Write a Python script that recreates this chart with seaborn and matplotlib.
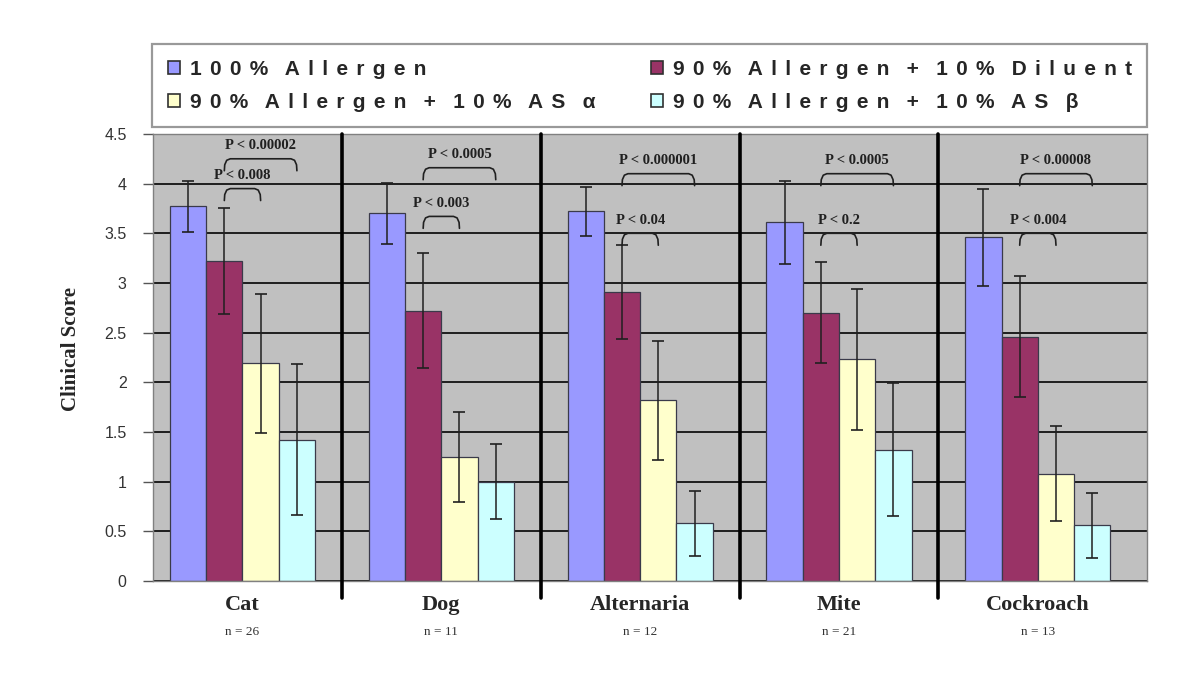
import numpy as np
import pandas as pd
import seaborn as sns
import matplotlib.pyplot as plt
from matplotlib.patches import Patch
import matplotlib.transforms as mtransforms


allergens = ["Cat", "Dog", "Alternaria", "Mite", "Cockroach"]
n_labels = ["n = 26", "n = 11", "n = 12", "n = 21", "n = 13"]
treatments = [
    "100% Allergen",
    "90% Allergen + 10% Diluent",
    "90% Allergen + 10% AS α",
    "90% Allergen + 10% AS β",
]
colors = ["#9999FF", "#993366", "#FFFFCC", "#CCFFFF"]

# mean clinical score per allergen, one list per treatment
means_100 = [3.77, 3.70, 3.72, 3.61, 3.46]
means_dil = [3.22, 2.72, 2.91, 2.70, 2.46]
means_alpha = [2.19, 1.25, 1.82, 2.23, 1.08]
means_beta = [1.42, 1.00, 0.58, 1.32, 0.56]

sd_100 = [0.26, 0.31, 0.25, 0.42, 0.49]
sd_dil = [0.53, 0.58, 0.47, 0.51, 0.61]
sd_alpha = [0.70, 0.45, 0.60, 0.71, 0.48]
sd_beta = [0.76, 0.38, 0.33, 0.67, 0.33]

# p values: diluent vs AS alpha (short bracket), diluent vs AS beta (long bracket)
p_short = ["P < 0.008", "P < 0.003", "P < 0.04", "P < 0.2", "P < 0.004"]
p_long = ["P < 0.00002", "P < 0.0005", "P < 0.000001", "P < 0.0005", "P < 0.00008"]
short_y = [3.95, 3.67, 3.50, 3.50, 3.50]
long_y = [4.25, 4.16, 4.10, 4.10, 4.10]

means = [means_100, means_dil, means_alpha, means_beta]
sds = [sd_100, sd_dil, sd_alpha, sd_beta]

rows = []
for t, vals in zip(treatments, means):
    for a, v in zip(allergens, vals):
        rows.append({"allergen": a, "treatment": t, "score": v})
df = pd.DataFrame(rows)

sns.set_style("white")
plt.rcParams["font.family"] = ["Liberation Sans", "DejaVu Sans"]

fig = plt.figure(figsize=(12, 6.8), dpi=100)
ax = fig.add_axes([0.1275, 0.1456, 0.8285, 0.6574])
ax.set_facecolor("#C0C0C0")

sns.barplot(
    data=df, x="allergen", y="score", hue="treatment",
    order=allergens, hue_order=treatments,
    palette=dict(zip(treatments, colors)), saturation=1,
    width=0.73, errorbar=None, edgecolor="#3a3a4a", linewidth=0.9,
    legend=False, ax=ax,
)

bar_conts = list(ax.containers)
centers = []
for i, cont in enumerate(bar_conts):
    xs = [b.get_x() + b.get_width() / 2 for b in cont]
    centers.append(xs)
    ax.errorbar(xs, means[i], yerr=sds[i], fmt="none", ecolor="#202020",
                elinewidth=1.1, capsize=4, capthick=1.2, zorder=4)

ax.set_xlim(-0.45, 4.55)
ax.set_ylim(0, 4.5)
ax.set_yticks(np.arange(0, 4.51, 0.5))
ax.set_yticklabels([f"{v:g}" for v in np.arange(0, 4.51, 0.5)],
                   fontsize=11.5, color="#333333")
ax.yaxis.grid(True, color="#111111", linewidth=1.3)
ax.xaxis.grid(False)
ax.set_axisbelow(True)
ax.tick_params(axis="y", length=7, width=1, color="#555555", left=True, pad=12)
ax.tick_params(axis="x", length=0, pad=10)
for s in ["left", "bottom", "right", "top"]:
    ax.spines[s].set_color("#808080")
    ax.spines[s].set_linewidth(1)

ax.set_xticks(range(len(allergens)))
ax.set_xticklabels(allergens, family="Liberation Serif", fontweight="bold",
                   fontsize=16)
ax.set_xlabel("")
ax.set_ylabel("Clinical Score", family="Liberation Serif", fontweight="bold",
              fontsize=15)
ax.yaxis.set_label_coords(-0.072, 0.52)

trans = mtransforms.blended_transform_factory(ax.transData, ax.transAxes)
for i, n in enumerate(n_labels):
    ax.text(i, -0.115, n, transform=trans, ha="center", va="center",
            family="Liberation Serif", fontsize=9.5, color="#333333")

# group separators
for b in np.arange(0.5, len(allergens) - 0.5, 1):
    ax.axvline(b, ymin=-0.037, ymax=1, color="black", linewidth=2.6,
               clip_on=False, zorder=3)


def bracket(x1, x2, y, label):
    d = 0.12
    xs = [x1, x1 + 0.002, x1 + 0.012, x1 + 0.03, x2 - 0.03, x2 - 0.012, x2 - 0.002, x2]
    ys = [y - d, y - 0.06, y - 0.015, y, y, y - 0.015, y - 0.06, y - d]
    ax.plot(xs, ys, color="#202020", linewidth=1.2, zorder=5,
            solid_capstyle="round", solid_joinstyle="round")
    ax.text((x1 + x2) / 2, y + 0.13, label, ha="center", va="center",
            family="Liberation Serif", fontweight="bold", fontsize=10.5,
            color="#202020", zorder=5)


for j in range(len(allergens)):
    bracket(centers[1][j], centers[2][j], short_y[j], p_short[j])
    bracket(centers[1][j], centers[3][j], long_y[j], p_long[j])


def spaced(s):
    return "   ".join("\u2009\u2009".join(w) for w in s.split(" "))


handles = [Patch(facecolor=c, edgecolor="#303030", linewidth=1.2) for c in colors]
order = [0, 2, 1, 3]
leg = fig.legend(
    [handles[k] for k in order], [spaced(treatments[k]) for k in order],
    loc="upper left", bbox_to_anchor=(0.127, 0.815, 0.829, 0.12),
    mode="expand", ncol=2, frameon=True, fancybox=False,
    edgecolor="#808080", borderaxespad=0, handlelength=0.6, handleheight=0.6,
    handletextpad=0.45, labelspacing=0.68, borderpad=0.74,
    prop={"family": ["Liberation Sans", "DejaVu Sans"], "weight": "bold",
          "size": 15},
)
leg.get_frame().set_linewidth(1.6)

fig.savefig("out.png", dpi=100)
